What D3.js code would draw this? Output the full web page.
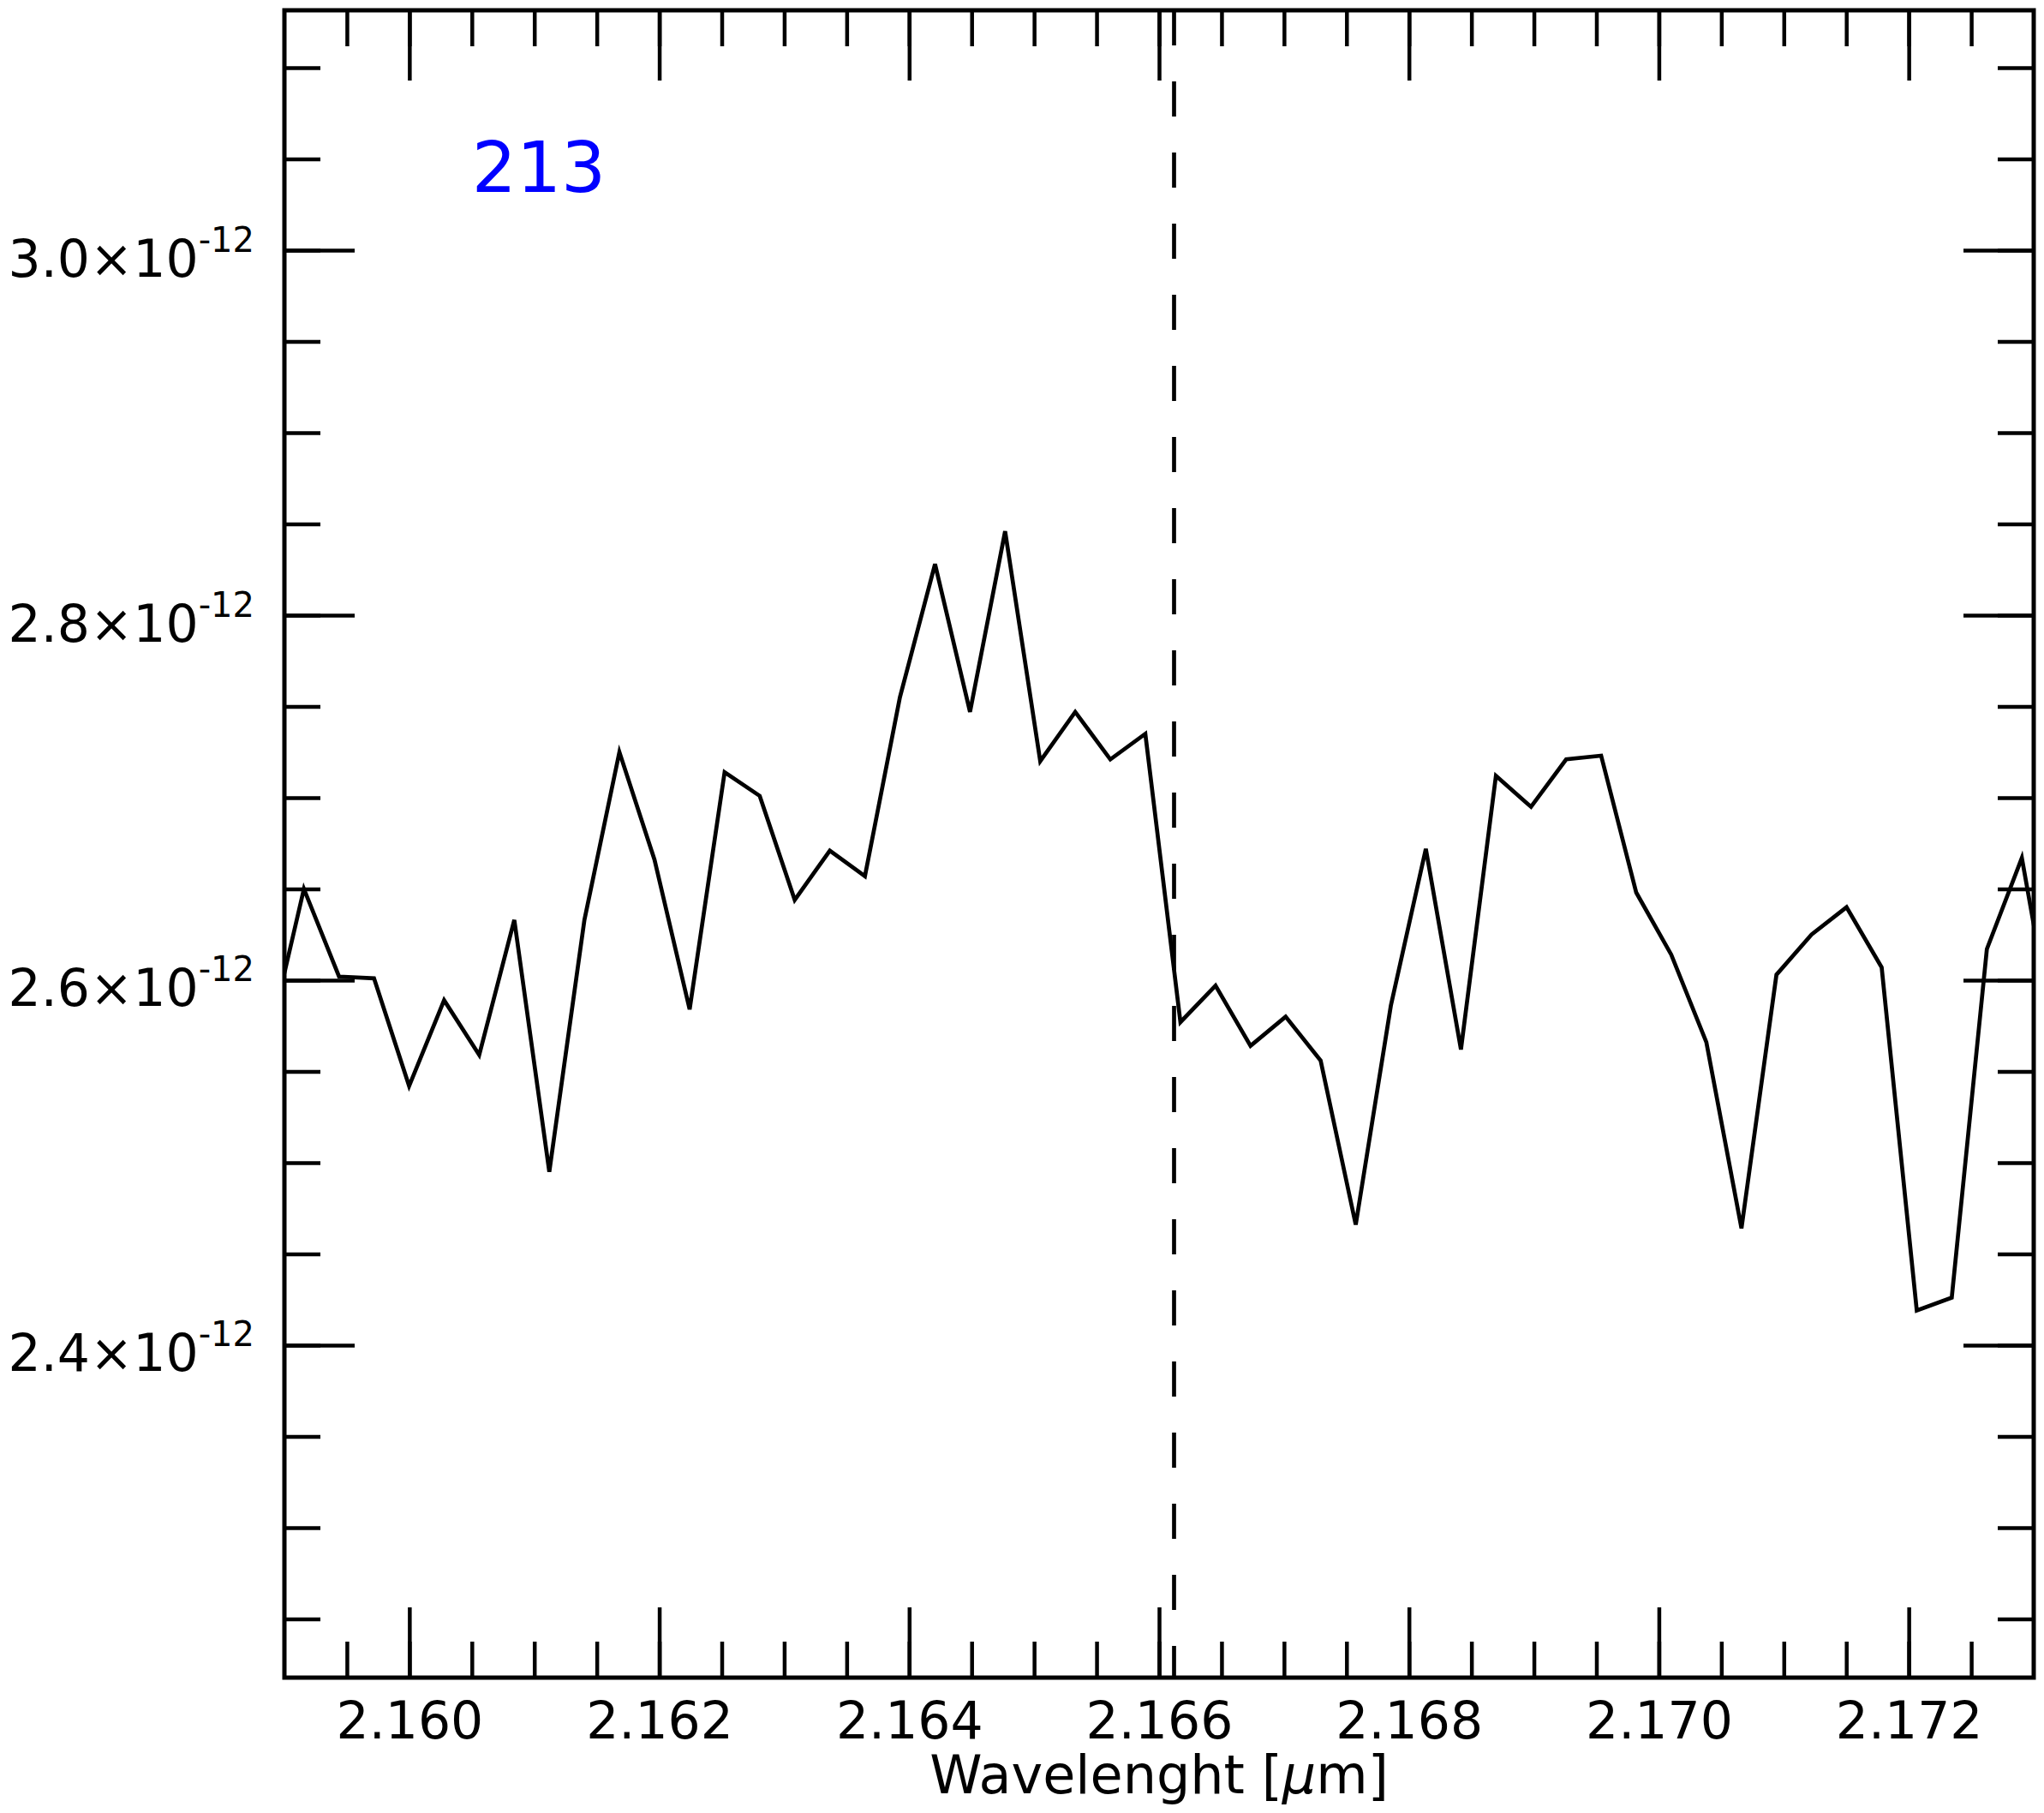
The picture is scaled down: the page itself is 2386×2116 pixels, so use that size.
<!DOCTYPE html>
<html>
<head>
<meta charset="utf-8">
<script src="https://cdn.jsdelivr.net/npm/d3@7"></script>
<style>
    body { margin: 0; background: #fff; }
    text { font-family: "DejaVu Sans", sans-serif; }
</style>
</head>
<body>
<div id="chart"></div>
<script>

// spectrum 213, flux in units of 1e-12
var wavelength = [
    2.158875, 2.159156, 2.159437, 2.159717, 2.159998, 2.160278, 2.160559, 2.160840,
    2.161120, 2.161401, 2.161681, 2.161962, 2.162243, 2.162523, 2.162804, 2.163084,
    2.163365, 2.163646, 2.163926, 2.164207, 2.164487, 2.164768, 2.165049, 2.165329,
    2.165610, 2.165890, 2.166171, 2.166452, 2.166732, 2.167013, 2.167293, 2.167574,
    2.167855, 2.168135, 2.168416, 2.168696, 2.168977, 2.169258, 2.169538, 2.169819,
    2.170099, 2.170380, 2.170661, 2.170941, 2.171222, 2.171502, 2.171783, 2.172064,
    2.172344, 2.172625, 2.172905, 2.173186
];

var flux = [
    2.567, 2.650, 2.602, 2.601, 2.542, 2.589, 2.559, 2.633,
    2.495, 2.633, 2.725, 2.666, 2.584, 2.714, 2.701, 2.644,
    2.671, 2.657, 2.755, 2.828, 2.747, 2.846, 2.720, 2.747,
    2.721, 2.735, 2.577, 2.597, 2.564, 2.580, 2.556, 2.466,
    2.586, 2.672, 2.562, 2.712, 2.695, 2.721, 2.723, 2.648,
    2.614, 2.566, 2.464, 2.603, 2.625, 2.640, 2.607, 2.419,
    2.426, 2.617, 2.667, 2.559
];

var xMajorTicks = [2.160, 2.162, 2.164, 2.166, 2.168, 2.170, 2.172],
    xTickLabels = ["2.160", "2.162", "2.164", "2.166", "2.168", "2.170", "2.172"],
    yMajorTicks = [2.4, 2.6, 2.8, 3.0],
    yTickLabels = ["2.4×10", "2.6×10", "2.8×10", "3.0×10"],
    yExponent = "-12";

var lineCenter = 2.16612,
    spectrumName = "213",
    namePos = [2.1605, 3.032];

window.onload = function() {

    var width = 2386,
        height = 2116,
        left = 332,
        right = 2374,
        top = 12,
        bottom = 1958,
        majorLen = 82,
        minorLen = 42;

    var svg = d3.select("#chart").append("svg")
        .attr("width", width)
        .attr("height", height);

    var x = d3.scaleLinear()
        .domain([2.159, 2.173])
        .range([left, right]);

    var y = d3.scaleLinear()
        .domain([2.2178, 3.1315])
        .range([bottom, top]);

    var xMinor = d3.range(2.1595, 2.1726, 0.0005),
        yMinor = d3.range(2.25, 3.11, 0.05);

    svg.append("clipPath")
        .attr("id", "plotclip")
        .append("rect")
        .attr("x", left)
        .attr("y", top)
        .attr("width", right - left)
        .attr("height", bottom - top);

    var line = d3.line()
        .x(function(d, i) { return x(wavelength[i]); })
        .y(function(d) { return y(d); });

    svg.append("path")
        .datum(flux)
        .attr("clip-path", "url(#plotclip)")
        .attr("d", line)
        .attr("fill", "none")
        .attr("stroke", "#000")
        .attr("stroke-width", 4.7)
        .attr("stroke-linejoin", "miter");

    // line centre marker
    svg.append("line")
        .attr("x1", x(lineCenter))
        .attr("x2", x(lineCenter))
        .attr("y1", top)
        .attr("y2", bottom)
        .attr("stroke", "#000")
        .attr("stroke-width", 4.7)
        .attr("stroke-dasharray", "41,42");

    function addAxis(axis, tx, ty) {
        var g = svg.append("g")
            .attr("transform", "translate(" + tx + "," + ty + ")")
            .call(axis);
        g.select(".domain").remove();
        g.selectAll(".tick line")
            .attr("stroke", "#000")
            .attr("stroke-width", 4.5);
        g.selectAll("text")
            .attr("font-family", "DejaVu Sans")
            .attr("font-size", 60)
            .attr("fill", "#000");
        return g;
    }

    // minor ticks
    addAxis(d3.axisBottom(x).tickValues(xMinor).tickSize(-minorLen).tickFormat(""), 0, bottom);
    addAxis(d3.axisTop(x).tickValues(xMinor).tickSize(-minorLen).tickFormat(""), 0, top);
    addAxis(d3.axisLeft(y).tickValues(yMinor).tickSize(-minorLen).tickFormat(""), left, 0);
    addAxis(d3.axisRight(y).tickValues(yMinor).tickSize(-minorLen).tickFormat(""), right, 0);

    // major ticks
    addAxis(d3.axisBottom(x).tickValues(xMajorTicks).tickSize(-majorLen).tickPadding(28)
        .tickFormat(function(d, i) { return xTickLabels[i]; }), 0, bottom);
    addAxis(d3.axisTop(x).tickValues(xMajorTicks).tickSize(-majorLen).tickFormat(""), 0, top);
    addAxis(d3.axisRight(y).tickValues(yMajorTicks).tickSize(-majorLen).tickFormat(""), right, 0);

    var yAxis = addAxis(d3.axisLeft(y).tickValues(yMajorTicks).tickSize(-majorLen).tickFormat(""), left, 0);

    // y labels with superscript exponent
    yAxis.selectAll(".tick").each(function(d, i) {
        var t = d3.select(this).select("text")
            .attr("x", -35)
            .attr("y", 30)
            .attr("dy", null)
            .attr("text-anchor", "end");
        t.append("tspan").text(yTickLabels[i]);
        t.append("tspan")
            .attr("font-size", 40)
            .attr("dy", -29)
            .text(yExponent);
    });

    svg.append("rect")
        .attr("x", left)
        .attr("y", top)
        .attr("width", right - left)
        .attr("height", bottom - top)
        .attr("fill", "none")
        .attr("stroke", "#000")
        .attr("stroke-width", 5);

    var title = svg.append("text")
        .attr("x", (left + right) / 2)
        .attr("y", 2093)
        .attr("text-anchor", "middle")
        .attr("font-size", 62)
        .attr("fill", "#000");
    title.append("tspan").text("Wavelenght [");
    title.append("tspan").attr("font-style", "italic").text("μ");
    title.append("tspan").text("m]");

    svg.append("text")
        .attr("x", x(namePos[0]))
        .attr("y", y(namePos[1]))
        .attr("font-size", 82)
        .attr("fill", "#0000ff")
        .text(spectrumName);
};
</script>
</body>
</html>
